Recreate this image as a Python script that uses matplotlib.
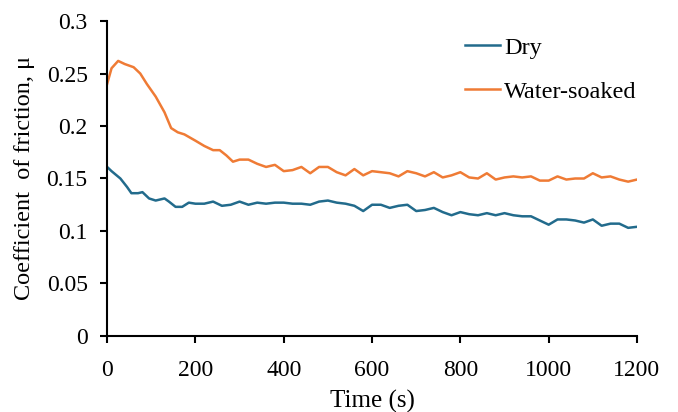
import matplotlib
matplotlib.use("Agg")
import matplotlib.pyplot as plt
from matplotlib.ticker import FixedLocator

plt.rcParams['font.family'] = ['Liberation Serif', 'DejaVu Serif']

# time (s) and friction readings
time_dry = [0, 10, 30, 45, 55, 70, 80, 95, 110, 130, 140, 155, 170, 185, 200,
            220, 240, 260, 280, 300, 320, 340, 360, 380, 400, 420, 440, 460,
            480, 500, 520, 540, 560, 580, 600, 620, 640, 660, 680, 700, 720,
            740, 760, 780, 800, 820, 840, 860, 880, 900, 920, 940, 960, 980,
            1000, 1020, 1040, 1060, 1080, 1100, 1120, 1140, 1160, 1180, 1200]
mu_dry = [0.161, 0.157, 0.150, 0.142, 0.136, 0.136, 0.137, 0.131, 0.129, 0.131,
          0.128, 0.123, 0.123, 0.127, 0.126, 0.126, 0.128, 0.124, 0.125, 0.128,
          0.125, 0.127, 0.126, 0.127, 0.127, 0.126, 0.126, 0.125, 0.128, 0.129,
          0.127, 0.126, 0.124, 0.119, 0.125, 0.125, 0.122, 0.124, 0.125, 0.119,
          0.120, 0.122, 0.118, 0.115, 0.118, 0.116, 0.115, 0.117, 0.115, 0.117,
          0.115, 0.114, 0.114, 0.110, 0.106, 0.111, 0.111, 0.110, 0.108, 0.111,
          0.105, 0.107, 0.107, 0.103, 0.104]

time_wet = [0, 10, 25, 40, 60, 75, 90, 110, 130, 145, 160, 175, 200, 220, 240,
            255, 270, 285, 300, 320, 340, 360, 380, 400, 420, 440, 460, 480,
            500, 520, 540, 560, 580, 600, 620, 640, 660, 680, 700, 720, 740,
            760, 780, 800, 820, 840, 860, 880, 900, 920, 940, 960, 980, 1000,
            1020, 1040, 1060, 1080, 1100, 1120, 1140, 1160, 1180, 1200]
mu_wet = [0.240, 0.255, 0.262, 0.259, 0.256, 0.250, 0.240, 0.228, 0.213, 0.198,
          0.194, 0.192, 0.186, 0.181, 0.177, 0.177, 0.172, 0.166, 0.168, 0.168,
          0.164, 0.161, 0.163, 0.157, 0.158, 0.161, 0.155, 0.161, 0.161, 0.156,
          0.153, 0.159, 0.153, 0.157, 0.156, 0.155, 0.152, 0.157, 0.155, 0.152,
          0.156, 0.151, 0.153, 0.156, 0.151, 0.150, 0.155, 0.149, 0.151, 0.152,
          0.151, 0.152, 0.148, 0.148, 0.152, 0.149, 0.150, 0.150, 0.155, 0.151,
          0.152, 0.149, 0.147, 0.149]

x_ticks = [0, 200, 400, 600, 800, 1000, 1200]
y_ticks = [0, 0.05, 0.1, 0.15, 0.2, 0.25, 0.3]
y_tick_labels = ['0', '0.05', '0.1', '0.15', '0.2', '0.25', '0.3']

fig = plt.figure(figsize=(6.78, 4.12), dpi=100)
ax = fig.add_axes([0.158, 0.1845, 0.7815, 0.7645])

ax.plot(time_dry, mu_dry, color='#226b8c', linewidth=1.8, label='Dry')
ax.plot(time_wet, mu_wet, color='#ef7b35', linewidth=1.8, label='Water-soaked')

ax.set_xlim(0, 1200)
ax.set_ylim(0, 0.3)
ax.xaxis.set_major_locator(FixedLocator(x_ticks))
ax.set_yticks(y_ticks)
ax.set_yticklabels(y_tick_labels)

for side in ['top', 'right']:
    ax.spines[side].set_visible(False)
for side in ['left', 'bottom']:
    ax.spines[side].set_linewidth(1.5)
ax.tick_params(direction='out', length=5, width=1.5, labelsize=17)
ax.tick_params(axis='y', pad=9)
ax.tick_params(axis='x', pad=12)

ax.set_xlabel('Time (s)', fontsize=18, labelpad=7)
ax.set_ylabel('Coefficient  of friction, μ', fontsize=17.5, labelpad=8)

ax.legend(loc='upper left', bbox_to_anchor=(0.675, 0.95), frameon=False,
          fontsize=17.5, handlelength=1.45, handletextpad=0.17, labelspacing=0.9,
          borderpad=0, borderaxespad=0)

fig.savefig('out.png', dpi=100)
